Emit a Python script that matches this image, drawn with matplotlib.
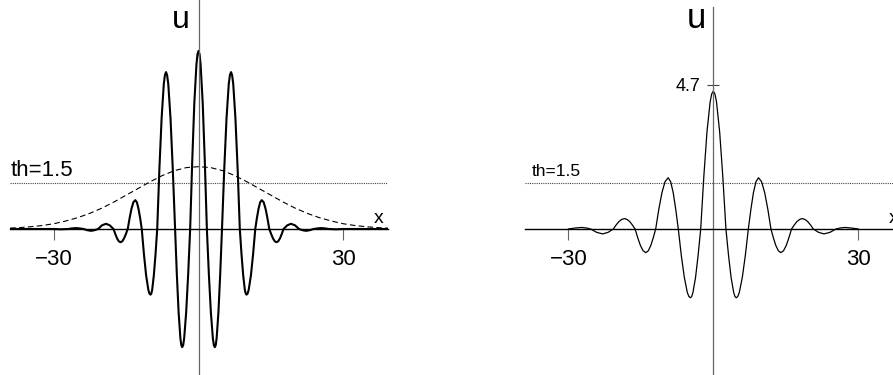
import numpy as np
import matplotlib
from matplotlib import pyplot as plt

matplotlib.use('agg')
plt.rcParams['font.family'] = ['Liberation Sans', 'DejaVu Sans']

# left panel: wave packet u(x)
left_x = np.array([
    -39.0, -30.0, -28.5, -27.0, -26.2, -25.4, -24.6, -23.8, -23.03, -22.26, -21.53, -20.8,
    -19.98, -19.15, -18.38, -17.6, -17.24, -16.88, -16.51, -16.15, -15.78, -15.4, -15.03,
    -14.65, -14.26, -13.88, -13.49, -13.1, -12.76, -12.43, -12.09, -11.75, -11.3, -10.85,
    -10.39, -10.17, -9.94, -9.77, -9.59, -9.25, -8.9, -8.55, -8.1, -7.64, -7.19, -6.96,
    -6.73, -6.5, -6.26, -5.8, -5.33, -4.86, -4.49, -4.12, -3.75, -3.57, -3.38, -3.17,
    -2.97, -2.56, -2.14, -1.73, -1.3, -0.87, -0.43, -0.22,
    0.0,
    0.22, 0.43, 0.87, 1.3, 1.73, 2.14, 2.56, 2.97, 3.17, 3.38, 3.57, 3.75, 4.12, 4.49,
    4.86, 5.33, 5.8, 6.26, 6.5, 6.73, 6.96, 7.19, 7.64, 8.1, 8.55, 8.9, 9.25, 9.59, 9.77,
    9.94, 10.17, 10.39, 10.85, 11.3, 11.75, 12.09, 12.43, 12.76, 13.1, 13.49, 13.88,
    14.26, 14.65, 15.03, 15.4, 15.78, 16.15, 16.51, 16.88, 17.24, 17.6, 18.38, 19.15,
    19.98, 20.8, 21.53, 22.26, 23.03, 23.8, 24.6, 25.4, 26.2, 27.0, 28.5, 30.0, 39.2])
left_u = np.array([
    0.0, 0.0, -0.01, 0.0, 0.02, 0.03, 0.02, 0.0, -0.04, -0.06, -0.04, 0.0,
    0.12, 0.17, 0.12, 0.0, -0.16, -0.30, -0.40, -0.43, -0.40, -0.30, -0.16,
    0.0, 0.36, 0.66, 0.87, 0.94, 0.87, 0.66, 0.36, 0.0, -0.82, -1.51,
    -1.98, -2.10, -2.14, -2.10, -1.98, -1.51, -0.82, 0.0, 1.96, 3.61, 4.72, 5.01,
    5.11, 5.01, 4.72, 3.61, 1.96, 0.0, -1.47, -2.72, -3.56, -3.78, -3.85, -3.78,
    -3.56, -2.72, -1.47, 0.0, 2.22, 4.10, 5.36, 5.69,
    5.80,
    5.69, 5.36, 4.10, 2.22, 0.0, -1.47, -2.72, -3.56, -3.78, -3.85, -3.78, -3.56, -2.72, -1.47,
    0.0, 1.96, 3.61, 4.72, 5.01, 5.11, 5.01, 4.72, 3.61, 1.96, 0.0, -0.82, -1.51, -1.98, -2.10,
    -2.14, -2.10, -1.98, -1.51, -0.82, 0.0, 0.36, 0.66, 0.87, 0.94, 0.87, 0.66,
    0.36, 0.0, -0.16, -0.30, -0.40, -0.43, -0.40, -0.30, -0.16, 0.0, 0.12, 0.17,
    0.12, 0.0, -0.04, -0.06, -0.04, 0.0, 0.02, 0.03, 0.02, 0.0, -0.01, 0.0, 0.0])

# dashed envelope
env_x = np.array([-39.0, -37.5, -35.0, -32.5, -30.0, -27.5, -25.0, -22.5, -20.0, -17.5, -15.0,
                  -12.5, -10.0, -7.5, -5.0, -2.5, 0.0, 2.5, 5.0, 7.5, 10.0, 12.5, 15.0, 17.5,
                  20.0, 22.5, 25.0, 27.5, 30.0, 32.5, 35.0, 37.5, 39.2])
env_u = np.array([0.03, 0.04, 0.07, 0.11, 0.17, 0.26, 0.37, 0.51, 0.68, 0.88, 1.10,
                  1.32, 1.54, 1.74, 1.90, 2.00, 2.03, 2.00, 1.90, 1.74, 1.54, 1.32, 1.10, 0.88,
                  0.68, 0.51, 0.37, 0.26, 0.17, 0.11, 0.07, 0.04, 0.03])

# right panel: focused pulse
right_x = np.array([
    -30.0, -28.65, -27.3, -26.35, -25.4, -24.15, -22.9, -21.8, -20.7, -20.13, -19.55, -18.98,
    -18.4, -17.85, -17.3, -16.75, -16.2, -15.64, -15.09, -14.53, -13.97, -13.46, -12.95,
    -12.44, -11.93, -11.29, -10.64, -10.0, -9.35, -8.83, -8.3, -7.78, -7.25, -6.63, -6.0,
    -5.38, -5.06, -4.75, -4.48, -4.22, -3.68, -3.15, -2.61, -1.96, -1.31, -0.65, -0.33,
    0.0,
    0.33, 0.65, 1.31, 1.96, 2.61, 3.15, 3.68, 4.22, 4.48, 4.75, 5.06, 5.38, 6.0, 6.63,
    7.25, 7.78, 8.3, 8.83, 9.35, 10.0, 10.64, 11.29, 11.93, 12.44, 12.95, 13.46, 13.97,
    14.53, 15.09, 15.64, 16.2, 16.75, 17.3, 17.85, 18.4, 18.98, 19.55, 20.13, 20.7,
    21.8, 22.9, 24.15, 25.4, 26.35, 27.3, 28.65, 30.0])
right_u = np.array([
    0.0, 0.03, 0.05, 0.035, 0.0, -0.11, -0.16, -0.11, 0.0, 0.13, 0.24, 0.31,
    0.34, 0.31, 0.24, 0.13, 0.0, -0.29, -0.54, -0.71, -0.77, -0.71, -0.54,
    -0.29, 0.0, 0.64, 1.18, 1.54, 1.67, 1.54, 1.18, 0.64, 0.0, -0.86, -1.58,
    -2.07, -2.20, -2.24, -2.20, -2.07, -1.58, -0.86, 0.0, 1.72, 3.17, 4.15, 4.40,
    4.49,
    4.40, 4.15, 3.17, 1.72, 0.0, -0.86, -1.58, -2.07, -2.20, -2.24, -2.20, -2.07, -1.58, -0.86,
    0.0, 0.64, 1.18, 1.54, 1.67, 1.54, 1.18, 0.64, 0.0, -0.29, -0.54, -0.71, -0.77,
    -0.71, -0.54, -0.29, 0.0, 0.13, 0.24, 0.31, 0.34, 0.31, 0.24, 0.13, 0.0,
    -0.11, -0.16, -0.11, 0.0, 0.035, 0.05, 0.03, 0.0])

threshold = 1.5
x_ticks = [-30, 30]
x_tick_labels = ['\u221230', '30']
peak_tick = 4.7

W, H = 893, 375
XLIM = (-39.03, 39.23)
YLIM = (-4.756, 7.459)


def setup_axes(ax, vbounds):
    ax.set_xlim(*XLIM)
    ax.set_ylim(*YLIM)
    ax.patch.set_alpha(0)
    for s in ['top', 'right']:
        ax.spines[s].set_visible(False)
    ax.spines['left'].set_position('zero')
    ax.spines['bottom'].set_position('zero')
    ax.spines['bottom'].set_linewidth(1.0)
    ax.spines['bottom'].set_color('black')
    ax.spines['left'].set_linewidth(0.9)
    ax.spines['left'].set_color('#666666')
    ax.spines['left'].set_bounds(*vbounds)
    ax.set_xticks(x_ticks, labels=x_tick_labels)
    ax.tick_params(axis='x', direction='out', length=7.7, width=0.8, color='#666666',
                   pad=6.5, labelsize=16)


fig = plt.figure(figsize=(W / 100, H / 100), dpi=100)

ax1 = fig.add_axes([10 / W, 0, 378 / W, 1])
setup_axes(ax1, (-4.72, 7.46))
ax1.set_yticks([])
ax1.axhline(threshold, color='#444444', lw=0.8, ls=(0, (1, 1)))
ax1.plot(env_x, env_u, color='black', lw=0.8, ls=(0, (5, 3)))
ax1.plot(left_x, left_u, color='black', lw=1.5)
ax1.text(-39.0, 1.74, 'th=1.5', fontsize=16, ha='left', va='baseline')
ax1.text(-3.6, 6.54, 'u', fontsize=23, ha='center', va='baseline')
ax1.text(37.37, 0.19, 'x', fontsize=14, ha='center', va='baseline')

ax2 = fig.add_axes([524.8 / W, 0, 378 / W, 1])
setup_axes(ax2, (-4.76, 7.23))
ax2.set_yticks([peak_tick], labels=[str(peak_tick)])
ax2.tick_params(axis='y', direction='inout', length=8, width=0.8, color='#444444',
                pad=5.4, labelsize=13)
ax2.axhline(threshold, color='#444444', lw=0.8, ls=(0, (1, 1)))
ax2.plot(right_x, right_u, color='black', lw=0.9)
ax2.text(-37.6, 1.73, 'th=1.5', fontsize=12.5, ha='left', va='baseline')
ax2.text(-3.58, 6.54, 'u', fontsize=25, ha='center', va='baseline')
ax2.text(37.3, 0.19, 'x', fontsize=14, ha='center', va='baseline')

plt.savefig('out.png', dpi=100)
plt.close()
